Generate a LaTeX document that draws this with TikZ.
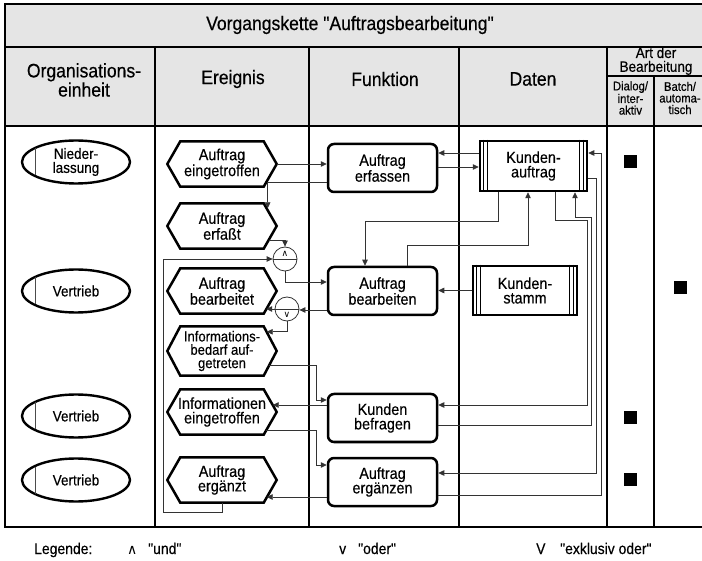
\documentclass[tikz,border=0pt]{standalone}
\usepackage{fontspec}
\setmainfont[FakeStretch=0.9, FakeBold=0.4, Ligatures=TeXOff]{Liberation Sans}
\newfontfamily\symbfont{DejaVu Sans}
\newcommand\sq{\symbol{34}}
\usetikzlibrary{arrows.meta,shapes.geometric,calc}

\tikzset{
  outerline/.style={line width=2.5pt},
  colrule/.style={line width=2pt},
  headtext/.style={font=\fontsize{19.5}{18}\selectfont, align=center, inner sep=0pt},
  smallhead/.style={font=\fontsize{12.5}{11.6}\selectfont, align=center, inner sep=0pt},
  orgunit/.style={ellipse, draw, line width=2.4pt, minimum width=108pt, minimum height=43pt,
    inner sep=0pt, align=center, font=\fontsize{15}{14}\selectfont},
  evtnode/.style={rectangle, minimum width=109pt, minimum height=45pt, inner sep=0pt,
    align=center, font=\fontsize{16}{14.5}\selectfont},
  evtline/.style={line width=2.5pt, line join=miter},
  fnbox/.style={rectangle, rounded corners=6pt, draw, line width=2.5pt, minimum width=109pt,
    minimum height=48pt, inner sep=0pt, align=center, font=\fontsize{16}{14.5}\selectfont},
  databox/.style={rectangle, draw, line width=2.5pt, minimum width=106pt, minimum height=49pt,
    inner sep=0pt, align=center, font=\fontsize{16}{14.5}\selectfont},
  flow/.style={line width=0.8pt, black!80, -{Triangle[length=6pt,width=5.5pt]}},
  thinline/.style={line width=0.8pt, black!80},
  opcircle/.style={circle, draw, black!80, line width=0.8pt, minimum size=24pt, inner sep=0pt},
  opsymbol/.style={font=\symbfont\fontsize{9}{9}\selectfont, inner sep=0pt},
  modesq/.style={rectangle, fill=black, minimum size=13pt, inner sep=0pt},
  legendtext/.style={font=\fontsize{15.5}{15.5}\selectfont, anchor=base west, inner sep=0pt},
}

\begin{document}
\begin{tikzpicture}[x=1pt,y=-1pt]
\useasboundingbox (0,0) rectangle (702,561);

% table frame, header shading and column rules
\begin{scope}
  \clip (0,0) rectangle (702,561);
  \fill[black!10] (5,4) rectangle (706,126);
  \draw[outerline] (5,4) rectangle (706,527);
  \draw[outerline] (5,47) -- (706,47);
  \draw[outerline] (5,126) -- (706,126);
  \foreach \x in {155,309,459,607} \draw[colrule] (\x,47) -- (\x,527);
  \draw[colrule] (607,76) -- (706,76);
  \draw[colrule] (654,76) -- (654,527);
\end{scope}

% header texts
\node[headtext] (title) at (350,25) {Vorgangskette \sq Auftragsbearbeitung\sq};
\node[headtext] (hOrg) at (84,80) {Organisations-\\einheit};
\node[headtext] (hEvt) at (233,79) {Ereignis};
\node[headtext] (hFn) at (385,79) {Funktion};
\node[headtext] (hDat) at (533,79) {Daten};
\node[headtext, font=\fontsize{15}{13.8}\selectfont] (hArt) at (656,61) {Art der\\Bearbeitung};
\node[smallhead] (hDia) at (630.5,98) {Dialog/\\inter-\\aktiv};
\node[smallhead] (hBat) at (680,98) {Batch/\\automa-\\tisch};

% organisational units
\node[orgunit] (o1) at (76,162) {Nieder-\\lassung};
\node[orgunit] (o2) at (76,291) {Vertrieb};
\node[orgunit] (o3) at (76,416) {Vertrieb};
\node[orgunit] (o4) at (76,480) {Vertrieb};
\foreach \n in {o1,o2,o3,o4}
  \draw[line width=0.7pt, black!70] ($(\n.center)+(-41,-13.5)$) -- ($(\n.center)+(-41,13.5)$);

% events
\node[evtnode] (e1) at (222,164) {Auftrag\\eingetroffen};
\node[evtnode] (e2) at (222,226) {Auftrag\\erfaßt};
\node[evtnode] (e3) at (222,291) {Auftrag\\bearbeitet};
\node[evtnode, minimum height=49pt, font=\fontsize{14.5}{13.3}\selectfont] (e4) at (222,351) {Informations-\\bedarf auf-\\getreten};
\node[evtnode] (e5) at (222,412) {Informationen\\eingetroffen};
\node[evtnode] (e6) at (222,480) {Auftrag\\ergänzt};
\foreach \n in {e1,e2,e3,e4,e5,e6}
  \draw[evtline] (\n.west) -- ($(\n.north west)+(13,0)$) -- ($(\n.north east)+(-13,0)$)
    -- (\n.east) -- ($(\n.south east)+(-13,0)$) -- ($(\n.south west)+(13,0)$) -- cycle;

% functions
\node[fnbox] (f1) at (382.5,168) {Auftrag\\erfassen};
\node[fnbox] (f2) at (382.5,291) {Auftrag\\bearbeiten};
\node[fnbox] (f3) at (382.5,418) {Kunden\\befragen};
\node[fnbox] (f4) at (382.5,482) {Auftrag\\ergänzen};

% data objects
\node[databox, minimum width=107pt, minimum height=50pt] (d1) at (533.5,166) {Kunden-\\auftrag};
\node[databox, minimum width=104pt] (d2) at (525,290.5) {Kunden-\\stamm};
\foreach \n in {d1,d2} {
  \draw[line width=0.6pt] ($(\n.north west)+(5,0)$) -- ($(\n.south west)+(5,0)$);
  \draw[line width=0.6pt] ($(\n.north west)+(9,0)$) -- ($(\n.south west)+(9,0)$);
  \draw[line width=0.6pt] ($(\n.north east)+(-5,0)$) -- ($(\n.south east)+(-5,0)$);
  \draw[line width=0.6pt] ($(\n.north east)+(-9,0)$) -- ($(\n.south east)+(-9,0)$);
}

% rule connectors
\node[opcircle] (c1) at (285,259) {};
\draw[thinline] (c1.west) -- (c1.east);
\node[opsymbol] (c1sym) at ($(c1.center)+(0,-5.5)$) {∧};
\node[opcircle] (c2) at (287,309) {};
\draw[thinline] (c2.west) -- (c2.east);
\node[opsymbol] (c2sym) at ($(c2.center)+(0,5.5)$) {∨};

% kind of processing
\node[modesq] (m1) at (630,162) {};
\node[modesq] (m2) at (680,288) {};
\node[modesq] (m3) at (630,418) {};
\node[modesq] (m4) at (630,479) {};

% control flow
\draw[flow] (e1.east) -- (e1.east -| f1.west);
\draw[flow] ($(f1.west)+(0,14)$) -| ($(e2.north east)+(-9,5)$);
\draw[flow] ($(e2.east)+(-8,14)$) -| (c1.north);
\coordinate (looppt) at (163,512);
\draw[flow] (e6.south) |- (looppt) |- (c1.west);
\draw[flow] (c1.south) |- ($(f2.west)+(0,-9)$);
\draw[flow] ($(f2.west)+(0,19)$) coordinate (a3) -- (a3 -| c2.east);
\draw[flow] (c2.west) -- ($(c2.west -| e3.east)+(-10.5,0)$);
\draw[flow] (c2.south) |- ($(e4.north east)+(-10,5.5)$);
\draw[flow] ($(e4.east)+(-8,14)$) -| ($(f3.west)+(-10,-18)$) -- ($(f3.west)+(0,-18)$);
\draw[flow] ($(f3.west)+(0,-13)$) coordinate (a4) -- ($(a4 -| e5.east)+(-4,0)$);
\draw[flow] ($(e5.east)+(-10.5,18)$) -| ($(f4.west)+(-10,-17)$) -- ($(f4.west)+(0,-17)$);
\draw[flow] ($(f4.west)+(0,15)$) coordinate (a5) -- ($(a5 -| e6.east)+(-10,0)$);

% data flow
\draw[flow] ($(d1.west)+(0,-13)$) coordinate (a1) -- (a1 -| f1.east);
\draw[flow] ($(f1.east)+(0,-1)$) coordinate (a2) -- (a2 -| d1.west);
\draw[flow] ($(d1.south)+(-35.5,0)$) -- ++(0,29) -| ($(f2.north)+(-17.5,0)$);
\draw[flow] ($(f2.north)+(24.5,0)$) -- ++(0,-20) -| ($(d1.south)+(-5.5,0)$);
\draw[flow] (d2.west) -- (d2.west -| f2.east);
\draw[flow] ($(d1.south)+(21.5,0)$) |- ($(d1.south)+(53.5,28)$) |- ($(f3.east)+(0,-13)$);
\draw[flow] ($(f3.east)+(0,7)$) -| ($(d1.south)+(57.5,25)$) -| ($(d1.south)+(41.5,0)$);
\draw[flow] ($(d1.east)+(0,12)$) -| ($(f4.east)+(158,-9)$) -- ($(f4.east)+(0,-9)$);
\draw[flow] ($(f4.east)+(0,13)$) -| ($(d1.east)+(13.5,-13)$) -- ($(d1.east)+(0,-13)$);

% legend
\node[legendtext] (leg) at (34,554) {Legende:};
\node[legendtext, font=\symbfont\fontsize{14}{14}\selectfont] (lg1) at (127,554) {∧};
\node[legendtext] (lg1t) at (148,554) {\sq und\sq};
\node[legendtext] (lg2) at (339,554) {v};
\node[legendtext] (lg2t) at (358,554) {\sq oder\sq};
\node[legendtext] (lg3) at (536,554) {V};
\node[legendtext] (lg3t) at (560,554) {\sq exklusiv oder\sq};
\end{tikzpicture}
\end{document}
